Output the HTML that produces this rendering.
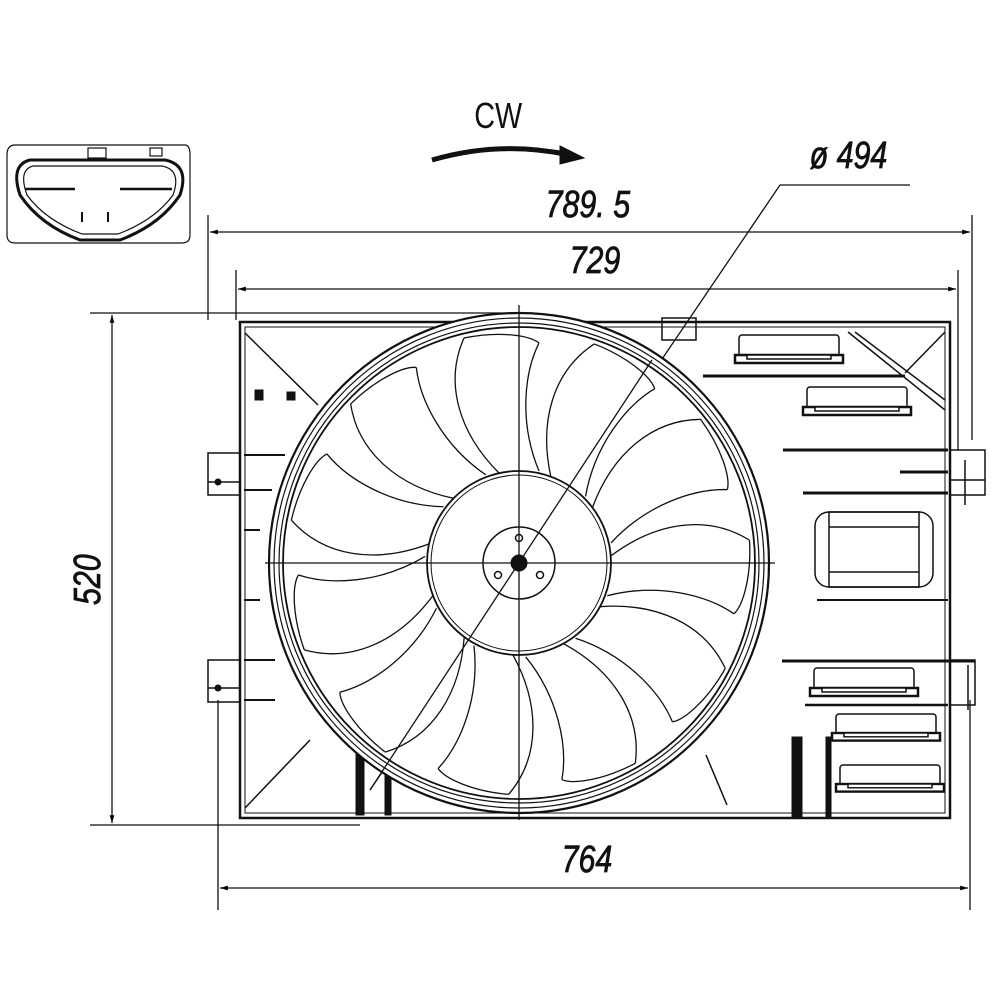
<!DOCTYPE html>
<html><head><style>html,body{margin:0;padding:0;background:#fff}svg{display:block}</style></head>
<body>
<svg width="1000" height="1000" viewBox="0 0 1000 1000" xmlns="http://www.w3.org/2000/svg" font-family="Liberation Sans, sans-serif">
<defs>
<marker id="ar" viewBox="0 0 10 10" refX="10" refY="5" markerWidth="10" markerHeight="6" orient="auto-start-reverse"><path d="M0,2 L10,5 L0,8 z" fill="#000"/></marker>
<g id="blade" fill="none" stroke="#111" stroke-width="1.3">
<path d="M-20,-90 C-60,-130 -75,-180 -55,-225"/>
<path d="M-55,-225 C-20,-232 10,-228 20,-220"/>
<path d="M20,-220 C5,-190 0,-140 20,-92"/>
</g>
<g id="clip" fill="#fff" stroke="#111" stroke-width="1.5"><rect x="0" y="0" width="100" height="24" rx="3"/><rect x="-4" y="20" width="108" height="8" stroke-width="2.5"/><rect x="8" y="20" width="84" height="4"/></g>
</defs>
<g stroke="#111" fill="none">
<path d="M15,145 H185 Q190,145 190,155 V235 Q190,243 182,243 H15 Q7,243 7,235 V155 Q7,145 15,145 Z" stroke-width="1.2"/>
<path d="M30,160 H165 Q190,165 180,195 Q160,225 120,240 H80 Q40,225 20,195 Q10,165 30,160 Z" stroke-width="3"/>
<path d="M33,166 H162 Q182,170 173,195 Q155,220 118,234 H82 Q45,220 27,195 Q18,170 33,166 Z" stroke-width="1.2"/>
<line x1="25" y1="189" x2="75" y2="189" stroke-width="2.5"/><line x1="120" y1="189" x2="172" y2="189" stroke-width="2.5"/>
<line x1="82" y1="212" x2="82" y2="222" stroke-width="2"/><line x1="108" y1="212" x2="108" y2="222" stroke-width="2"/>
<rect x="88" y="148" width="18" height="10" stroke-width="1.2"/><rect x="150" y="148" width="12" height="8" stroke-width="1.2"/>
<path d="M432,160 Q500,140 570,155" stroke-width="5"/>
<path d="M560,146 L584,158 L560,164 Z" fill="#111"/>
<line x1="208" y1="215" x2="208" y2="320" stroke-width="1.3"/>
<line x1="972" y1="215" x2="972" y2="440" stroke-width="1.3"/>
<line x1="210" y1="232" x2="970" y2="232" stroke-width="1.3" marker-start="url(#ar)" marker-end="url(#ar)"/>
<line x1="236" y1="270" x2="236" y2="320" stroke-width="1.3"/>
<line x1="958" y1="270" x2="958" y2="450" stroke-width="1.3"/>
<line x1="238" y1="289" x2="956" y2="289" stroke-width="1.3" marker-start="url(#ar)" marker-end="url(#ar)"/>
<line x1="218" y1="700" x2="218" y2="910" stroke-width="1.3"/>
<line x1="970" y1="700" x2="970" y2="910" stroke-width="1.3"/>
<line x1="220" y1="888" x2="968" y2="888" stroke-width="1.3" marker-start="url(#ar)" marker-end="url(#ar)"/>
<line x1="90" y1="313" x2="520" y2="313" stroke-width="1.3"/>
<line x1="90" y1="825" x2="360" y2="825" stroke-width="1.3"/>
<line x1="112" y1="315" x2="112" y2="823" stroke-width="1.3" marker-start="url(#ar)" marker-end="url(#ar)"/>
<polyline points="910,185 780,185 370,790" stroke-width="1.3"/>
<rect x="240" y="322" width="710" height="496" stroke-width="2.5"/>
<rect x="245" y="327" width="700" height="486" stroke-width="1"/>
<line x1="245" y1="333" x2="318" y2="405" stroke-width="1.5"/>
<line x1="848" y1="332" x2="945" y2="410" stroke-width="1.5"/><line x1="855" y1="332" x2="945" y2="400" stroke-width="1.5"/>
<line x1="905" y1="373" x2="945" y2="332" stroke-width="1.5"/>
<line x1="245" y1="808" x2="310" y2="740" stroke-width="1.5"/>
<line x1="706" y1="755" x2="727" y2="805" stroke-width="1.5"/>
<rect x="208" y="453" width="32" height="42" stroke-width="1.5"/><line x1="208" y1="482" x2="240" y2="482" stroke-width="1.5"/>
<circle cx="218" cy="482" r="3" fill="#111"/>
<rect x="208" y="660" width="32" height="42" stroke-width="1.5"/><line x1="208" y1="688" x2="240" y2="688" stroke-width="1.5"/>
<circle cx="218" cy="688" r="3" fill="#111"/>
<rect x="950" y="450" width="35" height="45" stroke-width="1.5"/><line x1="965" y1="460" x2="965" y2="505" stroke-width="1.5"/><line x1="950" y1="480" x2="985" y2="480" stroke-width="1.5"/>
<rect x="950" y="660" width="25" height="45" stroke-width="1.5"/><line x1="968" y1="665" x2="968" y2="710" stroke-width="1.5"/>
<line x1="703" y1="376" x2="905" y2="376" stroke-width="3"/>
<line x1="783" y1="450" x2="948" y2="450" stroke-width="3"/>
<line x1="900" y1="472" x2="948" y2="472" stroke-width="3"/>
<line x1="803" y1="493" x2="948" y2="493" stroke-width="3"/>
<line x1="817" y1="600" x2="948" y2="600" stroke-width="2"/>
<line x1="782" y1="661" x2="975" y2="661" stroke-width="3"/>
<line x1="805" y1="705" x2="948" y2="705" stroke-width="2.5"/>
<line x1="244" y1="455" x2="285" y2="455" stroke-width="2"/><line x1="244" y1="490" x2="272" y2="490" stroke-width="2"/>
<line x1="244" y1="530" x2="260" y2="530" stroke-width="2"/><line x1="244" y1="600" x2="260" y2="600" stroke-width="2"/>
<line x1="244" y1="660" x2="275" y2="660" stroke-width="2"/><line x1="244" y1="700" x2="275" y2="700" stroke-width="2"/>
<rect x="815" y="512" width="118" height="75" rx="14" stroke-width="1.5"/>
<rect x="829" y="512" width="90" height="75" stroke-width="1.5"/><line x1="829" y1="527" x2="919" y2="527" stroke-width="1.5"/><line x1="829" y1="572" x2="919" y2="572" stroke-width="1.5"/>
<rect x="792" y="737" width="10" height="80" fill="#111"/><rect x="826" y="737" width="5" height="80" fill="#111"/>
<rect x="356" y="750" width="8" height="65" fill="#111"/><rect x="385" y="770" width="6" height="45" fill="#111"/>
<rect x="662" y="318" width="34" height="22" stroke-width="1.5"/>
<rect x="255" y="390" width="8" height="10" fill="#111"/><rect x="287" y="392" width="8" height="8" fill="#111"/>
</g>
<use href="#clip" transform="translate(739,335)"/>
<use href="#clip" transform="translate(807,387)"/>
<use href="#clip" transform="translate(814,668)"/>
<use href="#clip" transform="translate(836,714) scale(1,0.95)"/>
<use href="#clip" transform="translate(840,765) scale(1,0.95)"/>
<g stroke="#111" fill="none">
<circle cx="519" cy="563" r="250" fill="#fff" stroke-width="2.2"/>
<circle cx="519" cy="563" r="245" stroke-width="1.2"/>
<circle cx="519" cy="563" r="240" stroke-width="1.2"/>
<circle cx="519" cy="563" r="236" stroke-width="1.8"/>
<g transform="translate(519,563)">
<use href="#blade" transform="rotate(0)"/><use href="#blade" transform="rotate(32.7)"/><use href="#blade" transform="rotate(65.4)"/>
<use href="#blade" transform="rotate(98.1)"/><use href="#blade" transform="rotate(130.8)"/><use href="#blade" transform="rotate(163.6)"/>
<use href="#blade" transform="rotate(196.3)"/><use href="#blade" transform="rotate(229)"/><use href="#blade" transform="rotate(261.7)"/>
<use href="#blade" transform="rotate(294.4)"/><use href="#blade" transform="rotate(327.1)"/>
</g>
<circle cx="519" cy="563" r="92" fill="#fff" stroke-width="1.8"/>
<circle cx="519" cy="563" r="88" stroke-width="1"/>
<circle cx="519" cy="563" r="36" stroke-width="1.5"/>
<circle cx="519" cy="563" r="8" fill="#111"/>
<circle cx="519" cy="538" r="3.5" stroke-width="1.5"/><circle cx="498" cy="575" r="3.5" stroke-width="1.5"/><circle cx="540" cy="575" r="3.5" stroke-width="1.5"/>
<line x1="519" y1="305" x2="519" y2="820" stroke-width="1.3"/>
<line x1="265" y1="563" x2="775" y2="563" stroke-width="1.3"/>
<line x1="652" y1="360" x2="370" y2="790" stroke-width="1.3"/>
</g>
<g font-style="italic" font-size="38" fill="#111" stroke="#111" stroke-width="0.8" transform="scale(0.8,1)">
<text x="682" y="217">789. 5</text>
<text x="712" y="273">729</text>
<text x="702" y="872">764</text>
<text x="1012" y="168" font-size="38">ø 494</text>
</g>
<text x="474" y="128" font-size="36" fill="#111" transform="translate(95,0) scale(0.8,1)" dx="0">CW</text>
<text transform="translate(100,605) rotate(-90) scale(0.8,1)" font-style="italic" font-size="38" fill="#111" stroke="#111" stroke-width="0.8">520</text>
</svg>
</body></html>
